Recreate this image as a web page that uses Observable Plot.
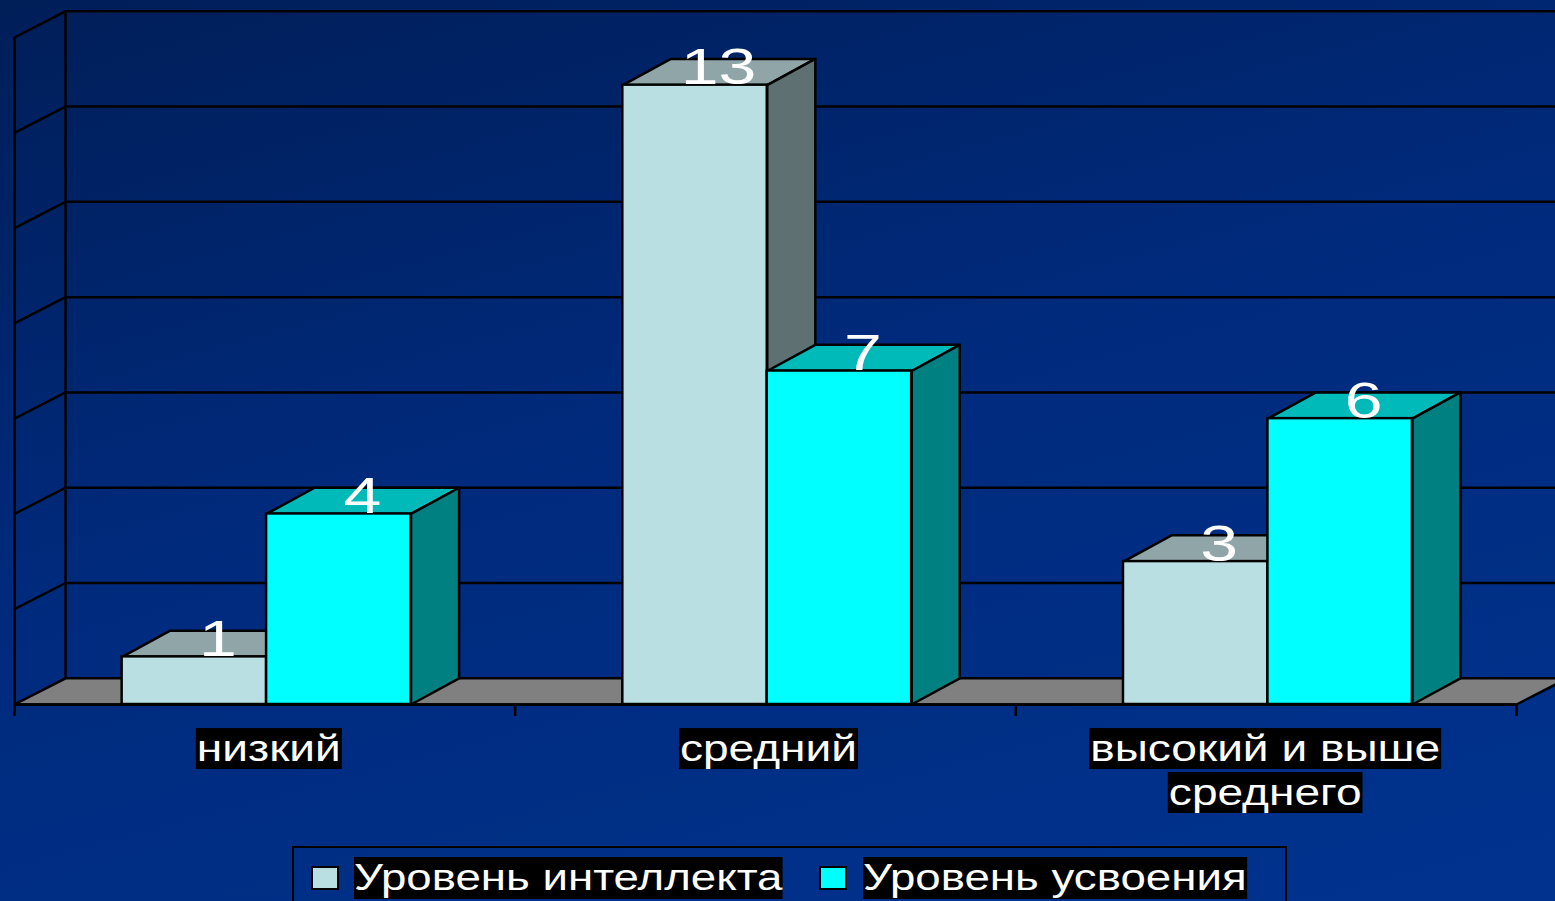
<!DOCTYPE html>
<html lang="ru">
<head>
<meta charset="utf-8">
<script src="https://cdn.jsdelivr.net/npm/d3@7"></script>
<script src="https://cdn.jsdelivr.net/npm/@observablehq/plot@0.6"></script>
<style>
  html, body { margin: 0; height: 901px; width: 1555px; overflow: hidden; }
  body { background: linear-gradient(165deg, #001e58 0%, #002a7c 45%, #00338f 100%); font-family: "Liberation Sans", Arial, sans-serif; }
  #chart svg { display: block; background: transparent; }
  #legend { position: absolute; left: 292px; top: 846px; width: 991px; height: 70px; border: 2px solid #000; }
  #legend .swatch { position: absolute; top: 18px; width: 24px; height: 20px; border: 2.5px solid #000; }
  #legend .label { position: absolute; top: 9px; height: 42px; line-height: 41px; font-size: 36px; color: #fff; background: #000; white-space: nowrap; }
</style>
</head>
<body>
<div id="chart"></div>
<div id="legend"></div>
<script>
// Categories and the two series
const categories = ["низкий", "средний", "высокий и выше\nсреднего"];
const seriesNames = ["Уровень интеллекта", "Уровень усвоения"];
const intellect = [1, 13, 3];
const mastery = [4, 7, 6];
const gridValues = [0, 2, 4, 6, 8, 10, 12, 14];

// Face colours per series: front, top, side
const faceColors = [
  {front: "#b9dfe3", top: "#8fa5a8", side: "#5e7072"},
  {front: "#00ffff", top: "#00baba", side: "#008080"}
];

// Oblique projection of the depth axis, in data units
const wallDepthX = 0.102;
const barDepthX = 0.096;
const depthY = 0.55;
const barOffset = 0.215;
const barWidth = 0.2885;
const textStretch = 1.28;
const digitStretch = 1.36;
const legendStretch = 1.268;
const labelShift = [0, -1, -5];

const bars = [intellect, mastery].flatMap((values, s) =>
  values.map((value, i) => {
    const x1 = i + barOffset + s * barWidth;
    return {s, i, value, x1, x2: x1 + barWidth};
  })
);

const polygon = (id, fill, pts) => pts.map(([x, y]) => ({id, fill, x, y}));

const floor = polygon("floor", "#808080", [
  [0, 0], [3, 0], [3 + wallDepthX, depthY], [wallDepthX, depthY]
]);

const faces = (s) => bars.filter((b) => b.s === s).flatMap((b) => [
  ...polygon(`top-${s}-${b.i}`, faceColors[s].top, [
    [b.x1, b.value], [b.x2, b.value], [b.x2 + barDepthX, b.value + depthY], [b.x1 + barDepthX, b.value + depthY]
  ]),
  ...polygon(`side-${s}-${b.i}`, faceColors[s].side, [
    [b.x2, 0], [b.x2 + barDepthX, depthY], [b.x2 + barDepthX, b.value + depthY], [b.x2, b.value]
  ])
]);

// Left wall edges and back wall grid lines
const wall = gridValues.flatMap((v) => [
  {id: `w${v}`, x: 0, y: v}, {id: `w${v}`, x: wallDepthX, y: v + depthY}, {id: `w${v}`, x: 3.2, y: v + depthY}
]);

const rows = categories.flatMap((c, i) => c.split("\n").map((text, row) => ({i, text, row})));

const ink = {stroke: "#000", strokeWidth: 2.5};

const plot = Plot.plot({
  width: 1555,
  height: 840,
  marginLeft: 14,
  marginRight: 39,
  marginTop: 37,
  marginBottom: 136,
  x: {type: "linear", domain: [0, 3], axis: null},
  y: {type: "linear", domain: [0, 14], axis: null},
  color: {type: "identity"},
  marks: [
    Plot.line(wall, {x: "x", y: "y", z: "id", ...ink}),
    Plot.ruleX([0], {y1: 0, y2: 14, ...ink}),
    Plot.ruleX([wallDepthX], {y1: depthY, y2: 14 + depthY, ...ink}),
    Plot.line(floor, {x: "x", y: "y", z: "id", fill: "fill", curve: "linear-closed", ...ink}),
    ...[0, 1].flatMap((s) => [
      Plot.line(faces(s), {x: "x", y: "y", z: "id", fill: "fill", curve: "linear-closed", ...ink}),
      Plot.rect(bars.filter((b) => b.s === s), {
        x1: "x1", x2: "x2", y1: 0, y2: "value", fill: faceColors[s].front, ...ink
      })
    ]),
    Plot.ruleY([0], {...ink}),
    Plot.axisX({ticks: [0, 1, 2, 3], tickSize: 12, tickFormat: () => "", ...ink, anchor: "bottom"}),
    Plot.text(bars, {
      x: (d) => (d.x1 + d.x2) / 2 + 0.047,
      y: "value",
      text: (d) => String(d.value),
      fill: "#fff",
      fontSize: 50,
      fontFamily: "Liberation Sans",
      lineAnchor: "bottom",
      dy: -1,
      className: "digits"
    }),
    Plot.text(rows, {
      x: (d) => d.i + 0.5,
      y: 0,
      text: "text",
      fill: "#fff",
      fontSize: 36,
      fontFamily: "Liberation Sans",
      lineAnchor: "top",
      dx: 4,
      className: "axis-label"
    })
  ]
});

document.getElementById("chart").append(plot);

// Category labels: stack the rows, widen the glyphs and put a black plate behind each row
function widen(text, factor) {
  const length = text.getComputedTextLength();
  text.setAttribute("textLength", length * factor);
  text.setAttribute("lengthAdjust", "spacingAndGlyphs");
}
d3.select(plot).selectAll(".digits text").each(function () { widen(this, digitStretch); });
d3.select(plot).selectAll(".axis-label text").each(function (_, n) {
  const {row, i} = rows[n];
  const base = this.getAttribute("transform") || "";
  this.setAttribute("transform", `${base} translate(${labelShift[i]},${31 + row * 44})`);
  widen(this, textStretch);
  const box = this.getBBox();
  const plate = document.createElementNS("http://www.w3.org/2000/svg", "rect");
  plate.setAttribute("x", box.x - 1);
  plate.setAttribute("y", box.y);
  plate.setAttribute("width", box.width + 2);
  plate.setAttribute("height", box.height);
  plate.setAttribute("fill", "#000");
  plate.setAttribute("transform", this.getAttribute("transform"));
  this.parentNode.insertBefore(plate, this);
});

// Legend below the chart
const legend = d3.select("#legend");
const entries = [
  {left: 17, textLeft: 60},
  {left: 525, textLeft: 569}
];
seriesNames.forEach((name, s) => {
  legend.append("div").attr("class", "swatch")
    .style("left", entries[s].left + "px")
    .style("background", faceColors[s].front);
  legend.append("div").attr("class", "label")
    .style("left", entries[s].textLeft + "px")
    .style("transform-origin", "left")
    .style("transform", `scaleX(${legendStretch})`)
    .text(name);
});
</script>
</body>
</html>
